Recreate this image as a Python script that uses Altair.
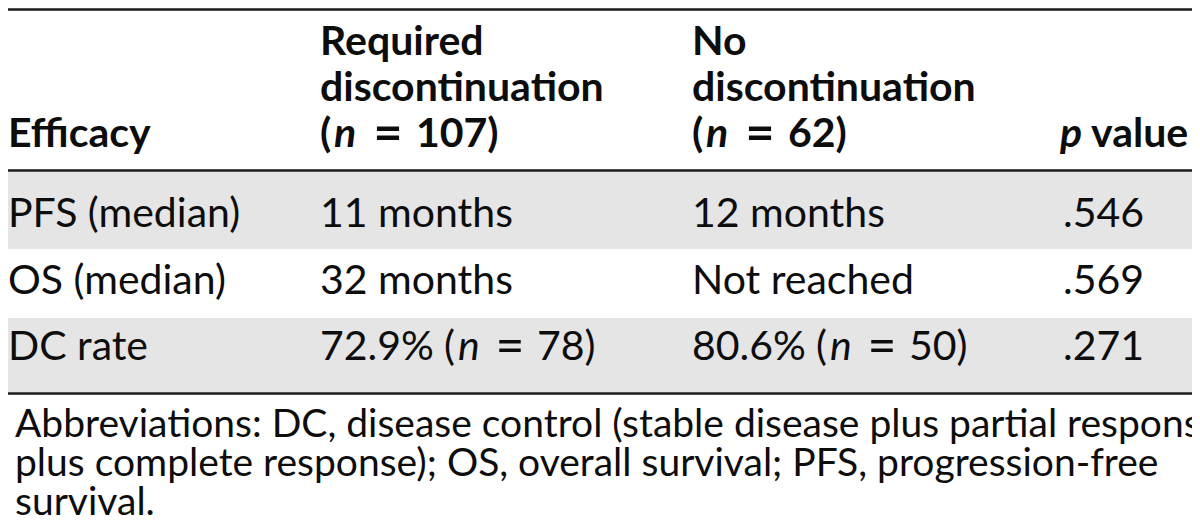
import re
import altair as alt
import pandas as pd

# ---------------- data (table content) ----------------
header_stub = "Efficacy"
header_required = ["Required", "discontinuation", "(n = 107)"]
header_no = ["No", "discontinuation", "(n = 62)"]
header_p = ["p", "value"]
row_labels = ["PFS (median)", "OS (median)", "DC rate"]
required = ["11 months", "32 months", "72.9% (n = 78)"]
no_disc = ["12 months", "Not reached", "80.6% (n = 50)"]
p_values = [".546", ".569", ".271"]
footnote = [
    "Abbreviations: DC, disease control (stable disease plus partial response",
    "plus complete response); OS, overall survival; PFS, progression-free",
    "survival.",
]

# ---------------- layout (page pixel coordinates) ----------------
W, H = 1184, 508
FONT = "Lato"
FS = 41
FS_EQ = 50
FS_FOOT = 39
INK = "#0d0d0d"
BAND = "#e5e5e5"
COL_X = [8, 320, 692, 1063]
P_X = 1060
P_WORD_X = 1091
HEAD_BASE = [55, 101, 147]
ROW_BASE = [227, 294, 360]
ROW_TOP = [172, 249, 318]
ROW_BOTTOM = [249, 318, 392]
FOOT_X = 15
FOOT_BASE = [437, 476, 515]
RULE_Y = [9.5, 170.5, 393.5]
# offsets of the pieces of "(n = k)" inside a cell
HEAD_OFF = {"paren": 0, "n": 14, "eq": 68, "num": 96}
BODY_OFF = {"paren": 124, "n": 138, "eq": 190, "num": 217}

xs = alt.Scale(domain=[8, 8 + W], range=[0, W], nice=False, zero=False)
ys = alt.Scale(domain=[8, 8 + H], range=[0, H], nice=False, zero=False)

segs = []


def add(text, x, y, style):
    segs.append({"text": text, "x": x, "y": y, "style": style})


def add_cell(s, x, y, header):
    m = re.match(r"^(.*?)\(n = (\d+)\)$", s)
    base = "bold" if header else "reg"
    ital = "boldital" if header else "ital"
    eq = "bold_eq" if header else "reg_eq"
    if not m:
        add(s, x, y, base)
        return
    off = HEAD_OFF if header else BODY_OFF
    prefix = m.group(1).strip()
    if prefix:
        add(prefix, x, y, base)
    add("(", x + off["paren"], y, base)
    add("n", x + off["n"], y, ital)
    add("=", x + off["eq"], y, eq)
    add(m.group(2) + ")", x + off["num"], y, base)


# header
add_cell(header_stub, COL_X[0], HEAD_BASE[2], True)
for i, line in enumerate(header_required):
    add_cell(line, COL_X[1], HEAD_BASE[i], True)
for i, line in enumerate(header_no):
    add_cell(line, COL_X[2], HEAD_BASE[i], True)
add(header_p[0], P_X, HEAD_BASE[2], "boldital")
add(header_p[1], P_WORD_X, HEAD_BASE[2], "bold")

# body
for r in range(len(row_labels)):
    for c, col in enumerate([row_labels, required, no_disc, p_values]):
        add_cell(col[r], COL_X[c], ROW_BASE[r], False)

# footnote
for i, line in enumerate(footnote):
    add(line, FOOT_X, FOOT_BASE[i], "foot")

df = pd.DataFrame(segs)

styles = {
    "reg": dict(align="left", fontWeight="normal", fontStyle="normal", fontSize=FS),
    "ital": dict(align="left", fontWeight="normal", fontStyle="italic", fontSize=FS),
    "reg_eq": dict(align="center", fontWeight="normal", fontStyle="normal", fontSize=FS_EQ, dy=3),
    "bold": dict(align="left", fontWeight="bold", fontStyle="normal", fontSize=FS),
    "boldital": dict(align="left", fontWeight="bold", fontStyle="italic", fontSize=FS),
    "bold_eq": dict(align="center", fontWeight="bold", fontStyle="normal", fontSize=FS_EQ, dy=3),
    "foot": dict(align="left", fontWeight="normal", fontStyle="normal", fontSize=FS_FOOT),
}

# shaded bands (alternate rows)
bands = pd.DataFrame(
    [{"y0": ROW_TOP[i], "y1": ROW_BOTTOM[i]} for i in range(len(row_labels)) if i % 2 == 0]
)
band_layer = alt.Chart(bands).mark_rect(color=BAND).encode(
    x=alt.value(0), x2=alt.value(W),
    y=alt.Y("y0:Q", scale=ys, axis=None), y2="y1:Q",
)

rules = pd.DataFrame({"y": RULE_Y})
rule_layer = alt.Chart(rules).mark_rule(color="#1a1a1a", strokeWidth=2.5).encode(
    x=alt.value(0), x2=alt.value(W),
    y=alt.Y("y:Q", scale=ys, axis=None),
)

layers = [band_layer, rule_layer]
for key, st in styles.items():
    sub = df[df["style"] == key]
    if sub.empty:
        continue
    layers.append(
        alt.Chart(sub).mark_text(
            baseline="alphabetic", font=FONT, color=INK, **st
        ).encode(
            x=alt.X("x:Q", scale=xs, axis=None),
            y=alt.Y("y:Q", scale=ys, axis=None),
            text="text:N",
        )
    )

chart = alt.layer(*layers).properties(
    width=W, height=H, padding=0, autosize=alt.AutoSizeParams(type="none"),
    background="white",
).configure_view(stroke=None)

chart.save("out.html", embed_options={"renderer": "svg", "actions": False})
